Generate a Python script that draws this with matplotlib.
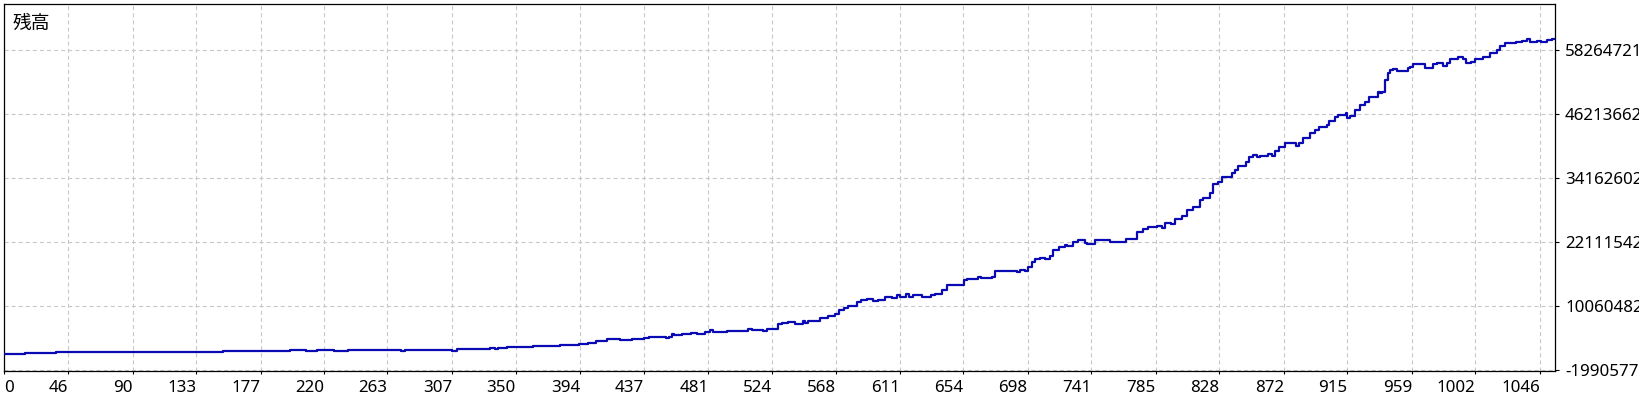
import matplotlib
matplotlib.use("Agg")
import matplotlib.pyplot as plt

# ---- data ----
trade_idx = [0, 17, 38, 46, 151, 197, 208, 215, 227, 236, 272, 275, 307, 310, 333, 336, 338, 344,
             362, 380, 393, 399, 405, 412, 421, 429, 433, 437, 441, 452, 454, 456, 458, 463, 469,
             473, 475, 479, 482, 484, 494, 508, 511, 518, 521, 528, 531, 535, 540, 545, 547, 549,
             557, 562, 567, 570, 573, 576, 582, 585, 589, 593, 596, 601, 606, 609, 611, 615, 617,
             620, 626, 632, 635, 640, 643, 651, 655, 657, 664, 666, 674, 676, 678, 691, 693, 696,
             698, 701, 703, 706, 710, 713, 715, 719, 723, 725, 729, 732, 737, 738, 744, 754, 759,
             765, 772, 776, 780, 786, 789, 791, 795, 798, 803, 806, 810, 815, 817, 822, 824, 827,
             830, 833, 837, 839, 841, 846, 848, 851, 854, 856, 861, 864, 866, 869, 873, 880, 882,
             885, 890, 893, 896, 901, 903, 907, 909, 914, 915, 917, 920, 924, 927, 930, 936, 937,
             939, 941, 943, 944, 946, 949, 956, 958, 960, 968, 973, 976, 980, 983, 985, 990, 994,
             996, 999, 1002, 1007, 1012, 1017, 1019, 1022, 1030, 1034, 1037, 1039, 1044, 1047,
             1051, 1054, 1057]
balance = [966000, 1154000, 1342000, 1455000, 1587000, 1775000, 1587000, 1775000, 1587000,
           1775000, 1587000, 1775000, 1587000, 1963000, 2152000, 1963000, 2152000, 2340000,
           2528000, 2716000, 2905000, 3150000, 3527000, 3847000, 3658000, 3903000, 3847000,
           4091000, 4280000, 4035000, 4280000, 4788000, 4656000, 4844000, 5033000, 4844000,
           4788000, 5108000, 5485000, 5221000, 5409000, 5786000, 5597000, 5409000, 5786000,
           6671000, 6803000, 6991000, 6727000, 7236000, 6916000, 7292000, 7744000, 8234000,
           8610000, 9307000, 9740000, 10060000, 10757000, 11190000, 11435000, 10945000,
           11190000, 11699000, 11510000, 12075000, 11811000, 12320000, 11811000, 12131000,
           11811000, 12075000, 12320000, 13073000, 13958000, 14014000, 14956000, 15088000,
           15465000, 15333000, 15578000, 16594000, 16707000, 16519000, 16895000, 16707000,
           17460000, 18345000, 18967000, 19155000, 18967000, 19475000, 20605000, 21114000,
           21546000, 21358000, 22168000, 22431000, 21979000, 21791000, 22488000, 22168000,
           22111000, 22620000, 23994000, 24503000, 24879000, 25124000, 24691000, 25632000,
           25501000, 26386000, 27007000, 28137000, 28758000, 30020000, 30340000, 31281000,
           33033000, 33466000, 34294000, 34407000, 35161000, 35669000, 36422000, 37232000,
           38173000, 38493000, 38173000, 38361000, 38681000, 38361000, 39303000, 40056000,
           40696000, 40244000, 40809000, 41638000, 42579000, 43201000, 43822000, 44142000,
           44952000, 45705000, 46082000, 46458000, 45517000, 45837000, 46967000, 47908000,
           48530000, 49471000, 50413000, 50111000, 50413000, 52616000, 53877000, 54499000,
           54687000, 54310000, 54819000, 55120000, 55572000, 54932000, 55628000, 55873000,
           55252000, 55760000, 56513000, 57003000, 56513000, 55873000, 56061000, 56513000,
           57003000, 57643000, 58265000, 59018000, 59639000, 59827000, 60016000, 60279000,
           59827000, 60016000, 59771000, 60148000, 60336000, 60336000]

x_tick_values = [0, 46, 90, 133, 177, 220, 263, 307, 350, 394, 437, 481, 524, 568, 611, 654,
                 698, 741, 785, 828, 872, 915, 959, 1002, 1046]
y_tick_values = [-1990577, 10060482, 22111542, 34162602, 46213662, 58264721]
title_text = "残高"

# ---- layout ----
W, H = 1640, 400
x_left, x_right = 2.5, 1056.2
y_bottom, y_top = -2178874, 66926420

plt.rcParams["font.family"] = ["Noto Sans", "DejaVu Sans"]
plt.rcParams["lines.scale_dashes"] = False

fig = plt.figure(figsize=(W / 100, H / 100), dpi=100)
fig.patch.set_facecolor("white")
ax = fig.add_axes([4 / W, (H - 371) / H, (1555 - 4) / W, (371 - 4) / H])

ax.step(trade_idx, balance, where="post", color="#0a0ab4", lw=1.6, zorder=3)

ax.set_xlim(x_left, x_right)
ax.set_ylim(y_bottom, y_top)

xpos = [x_left] + x_tick_values[1:]
ax.set_xticks(xpos)
ax.set_xticklabels([str(v) for v in x_tick_values])
for i, lab in enumerate(ax.get_xticklabels()):
    lab.set_ha("left" if i == 0 else "right")

ax.set_yticks(y_tick_values)
ax.set_yticklabels([str(v) for v in y_tick_values])
ax.yaxis.tick_right()

ax.tick_params(axis="x", direction="out", length=2.2, width=0.8, pad=4.6,
               labelsize=12.2, colors="black")
ax.tick_params(axis="y", direction="out", length=2.9, width=0.8, pad=4.3,
               labelsize=12.2, colors="black", right=True, left=False)

ax.grid(True, color="#c8c8c8", lw=0.8, linestyle=(0, (2.9, 2.2)), zorder=0)
for s in ax.spines.values():
    s.set_color("black")
    s.set_linewidth(0.9)

fig.text(13 / W, 1 - 13 / H, title_text, ha="left", va="top", fontsize=13.5,
         family=["Noto Sans CJK JP", "DejaVu Sans"], color="black")

fig.savefig("out.png", dpi=100, facecolor="white")
